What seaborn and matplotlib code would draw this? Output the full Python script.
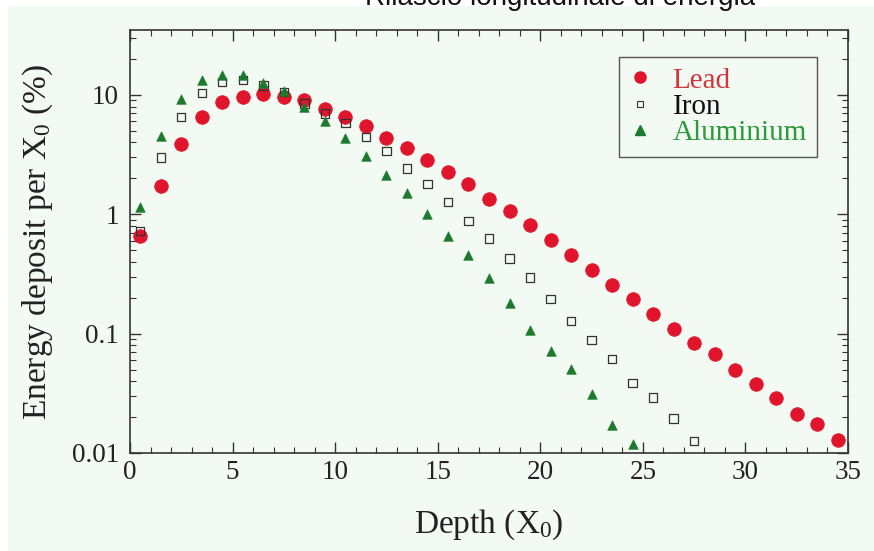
import numpy as np
import pandas as pd
import matplotlib
matplotlib.use("Agg")
import matplotlib.pyplot as plt
from matplotlib.patches import Rectangle
from matplotlib.lines import Line2D
from matplotlib.ticker import MultipleLocator, LogLocator, FixedLocator, FixedFormatter, NullFormatter
import seaborn as sns

# Longitudinal shower profile: energy deposit per radiation length (%)
lead_depth = [0.5, 1.5, 2.5, 3.5, 4.5, 5.5, 6.5, 7.5, 8.5, 9.5, 10.5, 11.5,
              12.5, 13.5, 14.5, 15.5, 16.5, 17.5, 18.5, 19.5, 20.5, 21.5, 22.5,
              23.5, 24.5, 25.5, 26.5, 27.5, 28.5, 29.5, 30.5, 31.5, 32.5, 33.5, 34.5]
lead_dep = [0.66, 1.72, 3.86, 6.5, 8.7, 9.7, 10.1, 9.6, 9.0, 7.6, 6.5, 5.45,
            4.36, 3.6, 2.87, 2.26, 1.78, 1.35, 1.06, 0.81, 0.61, 0.46, 0.344,
            0.257, 0.194, 0.147, 0.110, 0.084, 0.067, 0.050, 0.0376, 0.0291, 0.0211, 0.0176, 0.0129]

iron_depth = [0.5, 1.5, 2.5, 3.5, 4.5, 5.5, 6.5, 7.5, 8.5, 9.5, 10.5, 11.5,
              12.5, 13.5, 14.5, 15.5, 16.5, 17.5, 18.5, 19.5, 20.5, 21.5, 22.5,
              23.5, 24.5, 25.5, 26.5, 27.5]
iron_dep = [0.72, 2.99, 6.5, 10.4, 12.8, 13.3, 12.0, 10.6, 8.5, 7.0, 5.8, 4.45,
            3.37, 2.42, 1.8, 1.27, 0.88, 0.626, 0.426, 0.295, 0.196, 0.128, 0.089,
            0.061, 0.0386, 0.0291, 0.0194, 0.0126]

al_depth = [0.5, 1.5, 2.5, 3.5, 4.5, 5.5, 6.5, 7.5, 8.5, 9.5, 10.5, 11.5,
            12.5, 13.5, 14.5, 15.5, 16.5, 17.5, 18.5, 19.5, 20.5, 21.5, 22.5,
            23.5, 24.5]
al_dep = [1.15, 4.5, 9.2, 13.4, 14.8, 14.6, 12.7, 10.7, 8.0, 6.0, 4.35, 3.1,
          2.15, 1.51, 1.01, 0.658, 0.453, 0.292, 0.180, 0.107, 0.0715, 0.0509, 0.0314,
          0.0170, 0.0120]

materials = ["Lead", "Iron", "Aluminium"]
x_ticks = [0, 5, 10, 15, 20, 25, 30, 35]
y_ticks = [0.01, 0.1, 1, 10]
y_tick_labels = ["0.01", "0.1", "1", "10"]

df = pd.concat([
    pd.DataFrame({"Depth": lead_depth, "Deposit": lead_dep, "Material": "Lead"}),
    pd.DataFrame({"Depth": iron_depth, "Deposit": iron_dep, "Material": "Iron"}),
    pd.DataFrame({"Depth": al_depth, "Deposit": al_dep, "Material": "Aluminium"}),
], ignore_index=True)

sns.set_theme(style="ticks")
plt.rcParams["font.family"] = ["Liberation Serif", "DejaVu Serif"]
plt.rcParams["mathtext.fontset"] = "custom"
plt.rcParams["mathtext.rm"] = "Liberation Serif"
plt.rcParams["mathtext.it"] = "Liberation Serif:italic"

bg = "#f3f9f3"
red = "#e0142a"
green = "#1c7a2c"
text_colors = {"Lead": "#d0363c", "Iron": "#111111", "Aluminium": "#2e9a3a"}

fig = plt.figure(figsize=(8.74, 5.51), dpi=100)
fig.patch.set_facecolor("white")
fig.add_artist(Rectangle((8 / 874, 0), 1 - 8 / 874, 1 - 6 / 551,
                         transform=fig.transFigure, facecolor=bg,
                         edgecolor="none", zorder=-10))

ax = fig.add_axes([130 / 874, 1 - 453 / 551, 718 / 874, 423 / 551])
ax.set_facecolor(bg)

sns.scatterplot(data=df[df.Material == "Lead"], x="Depth", y="Deposit", ax=ax,
                marker="o", s=95, color=red, edgecolor=red, linewidth=0.6,
                legend=False, zorder=3)
sns.scatterplot(data=df[df.Material == "Iron"], x="Depth", y="Deposit", ax=ax,
                marker="s", s=36, facecolor="none", edgecolor="#333333",
                linewidth=0.9, legend=False, zorder=4)
sns.scatterplot(data=df[df.Material == "Aluminium"], x="Depth", y="Deposit", ax=ax,
                marker="^", s=48, color=green, edgecolor=green, linewidth=0.4,
                legend=False, zorder=5)

ax.set_yscale("log")
ax.set_xlim(0, 35)
ax.set_ylim(0.01, 35)

ax.xaxis.set_major_locator(FixedLocator(x_ticks))
ax.xaxis.set_minor_locator(MultipleLocator(1))
ax.yaxis.set_major_locator(FixedLocator(y_ticks))
ax.yaxis.set_major_formatter(FixedFormatter(y_tick_labels))
ax.yaxis.set_minor_locator(LogLocator(base=10, subs=np.arange(2, 10)))
ax.yaxis.set_minor_formatter(NullFormatter())

ax.tick_params(which="both", direction="in", top=True, right=True,
               colors="#333333", labelcolor="#222222", labelsize=19.5)
ax.tick_params(which="major", length=8, width=1.0)
ax.tick_params(axis="x", which="major", pad=5)
ax.tick_params(axis="y", which="major", pad=8)
ax.tick_params(which="minor", length=4, width=0.8)
for sp in ax.spines.values():
    sp.set_color("#333333")
    sp.set_linewidth(1.2)

ax.set_xlabel(r"Depth (X$_0$)", fontsize=24, color="#222222", labelpad=16)
ax.set_ylabel(r"Energy deposit per X$_0$ (%)", fontsize=24, color="#222222", labelpad=12)

handles = [
    Line2D([], [], linestyle="none", marker="o", markersize=8, color=red),
    Line2D([], [], linestyle="none", marker="s", markersize=5, markerfacecolor="none",
           markeredgecolor="#333333", markeredgewidth=0.8),
    Line2D([], [], linestyle="none", marker="^", markersize=7, color=green),
]
leg = ax.legend(handles, materials, loc="upper right",
                bbox_to_anchor=(817 / 874, 1 - 57 / 551), bbox_transform=fig.transFigure,
                fontsize=21, frameon=True, fancybox=False, framealpha=1,
                edgecolor="#555555", facecolor=bg, handlelength=0.8,
                handletextpad=0.7, labelspacing=0.0, borderpad=0.35,
                borderaxespad=0)
leg.get_frame().set_linewidth(1.0)
for t, m in zip(leg.get_texts(), materials):
    t.set_color(text_colors[m])

fig.text(560 / 874, 1 - 5 / 551, "Rilascio longitudinale di energia",
         ha="center", va="baseline", fontsize=20, family="Liberation Sans",
         color="#111111")

fig.savefig("out.png", dpi=100, facecolor=fig.get_facecolor())
